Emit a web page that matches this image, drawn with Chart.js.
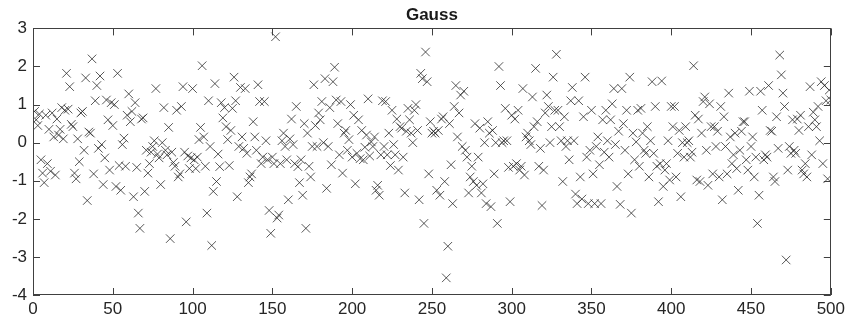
<!DOCTYPE html>
<html>
<head>
<meta charset="utf-8">
<title>Gauss</title>
<script src="https://cdn.jsdelivr.net/npm/chart.js@4/dist/chart.umd.min.js"></script>
<style>
  html, body { margin: 0; padding: 0; background: #fff; }
  #wrap { width: 849px; height: 326px; }
</style>
</head>
<body>
<div id="wrap"><canvas id="gauss" width="849" height="326"></canvas></div>
<script>
// axis ticks
const xTicks = [0, 50, 100, 150, 200, 250, 300, 350, 400, 450, 500];
const yTicks = [-4, -3, -2, -1, 0, 1, 2, 3];

// 500 samples, sample n is plotted at x = n
const gaussValues = [
  0.82, 0.6, 0.45, 0.75, -0.45, -0.8, -1.05, 0.72, -0.55, 0.35,
  -0.75, 0.78, 0.15, -0.85, 0.62, 0.2, 0.35, 0.92, 0.1, 0.85,
  1.82, 0.88, 1.47, 0.48, 0.42, -0.8, -0.95, 0.1, -0.5, 0.78,
  0.82, -0.2, 1.7, -1.52, 0.28, 0.25, 2.2, -0.82, 1.1, 1.5,
  -0.15, 1.75, -0.05, -1.1, -0.4, 1.12, 0.6, -0.72, 1.05, 0.45,
  1.0, -1.15, 1.82, -0.6, -1.25, -0.05, 0.12, -0.62, 0.72, 1.28,
  0.55, 0.82, -1.42, 1.05, -0.65, -1.85, -2.25, 0.62, 0.65, -1.28,
  -0.2, -0.8, -0.55, -0.25, -0.1, 0.05, 1.42, -0.3, -0.4, -1.1,
  0.0, 0.92, -0.2, -0.32, 0.4, -2.52, -0.25, -0.52, -0.62, 0.85,
  -0.9, -0.82, 0.95, 1.47, -0.25, -2.08, -0.35, -0.68, -0.4, 1.42,
  -0.45, -0.68, -0.38, 0.08, 0.4, 2.02, 0.15, -0.62, -1.85, 1.1,
  -0.1, -2.7, -1.28, 1.55, -1.02, -0.3, -0.63, 1.05, 0.65, 0.92,
  0.42, 0.08, -0.6, 0.32, 0.9, 1.72, 1.1, -1.42, -0.1, 1.45,
  0.15, -0.15, 1.42, -0.28, -1.05, -0.9, -0.82, 0.55, 0.15, -0.2,
  1.52, 1.08, -0.55, -0.38, 1.08, 0.05, -0.45, -1.78, -2.38, -0.38,
  -0.55, 2.78, -1.98, -1.9, -0.55, 0.05, 0.25, -0.1, -0.45, -1.5,
  0.1, 0.62, -0.05, -0.55, 0.95, -0.63, -1.05, -0.45, -1.38, 0.5,
  -2.25, 0.25, -0.62, -0.9, -0.1, 1.52, 0.45, -0.1, 0.78, 0.6,
  1.08, 0.0, 1.68, -1.2, -0.1, 0.92, -0.58, 1.6, 1.98, 1.12,
  0.5, -0.32, 1.08, -0.8, 0.25, 0.32, -0.2, 0.08, 1.0, -0.38,
  0.72, -1.08, -0.28, 0.6, -0.42, 0.32, -0.45, -0.12, 0.2, 1.15,
  -0.35, 0.02, -0.1, 0.15, -1.25, -1.12, -1.38, -0.32, 1.1, -0.1,
  1.08, -0.32, 0.25, -0.6, 0.85, -0.05, -0.32, 0.62, -0.72, 0.42,
  0.38, -0.38, -1.32, 0.3, 0.9, 0.6, 0.25, 0.0, 0.85, 1.0,
  0.32, -1.5, 1.82, 1.68, -2.12, 2.38, 1.6, -0.82, 0.55, 0.25,
  0.3, 0.25, -1.25, 0.32, -1.38, 0.62, 0.68, -1.02, -3.55, -2.72,
  0.5, -0.58, -1.6, 0.95, 1.5, 0.15, 0.78, 1.25, -0.1, 1.35,
  -0.2, -0.38, -1.32, -0.9, -0.62, -1.02, 0.5, -1.12, -0.38, 0.38,
  -1.32, -1.08, 0.0, -1.6, 0.55, 0.25, -1.68, 0.32, -0.82, 0.0,
  -2.12, 2.0, 1.5, 0.0, 0.05, 0.9, 0.05, -0.65, -1.55, 0.72,
  -0.62, 0.62, -0.55, 0.85, -0.72, -0.62, 1.42, -0.85, 0.15, 0.25,
  0.05, -0.05, 1.2, 0.42, 1.95, 0.55, -0.62, -0.15, -1.65, -0.72,
  0.78, 1.25, 0.95, 0.0, 0.42, 1.72, 0.85, 2.32, 0.85, 0.42,
  0.05, -1.02, 0.68, -0.1, 0.05, -0.45, 1.1, 1.45, 0.05, -1.35,
  -1.6, 1.1, -0.9, -1.48, 0.68, 1.72, -0.38, -1.6, -0.2, 0.85,
  -0.82, -1.6, -0.1, 0.15, -0.58, -1.6, 0.6, -0.25, 0.85, 0.05,
  -0.38, 0.6, 1.02, 1.42, -0.05, -1.15, 0.3, -1.62, 1.42, 0.5,
  -0.2, 0.85, -0.82, 1.72, -1.85, 0.25, -0.45, 0.02, 0.85, -0.62,
  0.9, 0.25, -0.2, -0.28, 0.42, -0.9, 0.05, 1.6, -0.28, 0.95,
  -0.62, -1.55, -0.55, 1.62, -1.15, -0.72, -0.55, 0.05, -0.98, 0.95,
  0.42, 0.95, -0.9, -0.28, 0.32, -1.42, 0.0, -0.38, 0.42, 0.0,
  0.05, -0.38, -0.25, 2.02, 0.72, -0.98, 0.62, -1.02, 0.25, 1.08,
  1.2, -0.2, -1.12, 1.02, 0.42, -0.82, 0.42, -0.1, 0.3, -0.9,
  0.95, -1.5, 0.68, -0.1, -0.82, 1.3, 0.15, -0.55, -0.32, 0.25,
  -0.68, -1.25, -0.2, 0.3, 0.55, 0.55, -0.45, -0.72, 1.35, -0.1,
  0.15, -0.9, -0.38, -2.12, -1.38, 1.35, 0.85, -0.45, -0.32, -0.38,
  1.5, 0.32, 0.3, -0.9, -1.02, 0.68, -0.15, 2.3, 1.78, 1.3,
  0.95, -3.08, -0.72, -0.1, -0.28, 0.6, -0.2, -0.28, 0.62, 0.32,
  0.72, -0.72, -0.82, -0.55, -0.9, 0.42, 1.47, -0.32, 0.8, 0.6,
  0.42, 0.95, 0.05, 1.6, -0.55, 1.5, 1.1, -0.95, 1.38, 1.12
];

const points = gaussValues.map((v, i) => ({ x: i + 1, y: v }));

const axisColor = '#404040';
const tickLen = 7;
const labelFont = { family: "'Liberation Sans', Arial, sans-serif", size: 17 };

// box around the plot with short inward tick marks on all four sides
const boxTicks = {
  id: 'boxTicks',
  afterDatasetsDraw(chart) {
    const { ctx, chartArea: a, scales } = chart;
    ctx.save();
    ctx.strokeStyle = axisColor;
    ctx.lineWidth = 1;
    ctx.beginPath();
    xTicks.forEach(v => {
      const px = Math.round(scales.x.getPixelForValue(v)) + 0.5;
      ctx.moveTo(px, a.bottom); ctx.lineTo(px, a.bottom - tickLen);
      ctx.moveTo(px, a.top); ctx.lineTo(px, a.top + tickLen);
    });
    yTicks.forEach(v => {
      const py = Math.round(scales.y.getPixelForValue(v)) + 0.5;
      ctx.moveTo(a.left, py); ctx.lineTo(a.left + tickLen, py);
      ctx.moveTo(a.right, py); ctx.lineTo(a.right - tickLen, py);
    });
    ctx.stroke();
    ctx.strokeRect(Math.round(a.left) + 0.5, Math.round(a.top) + 0.5,
      Math.round(a.width) - 1, Math.round(a.height) - 1);
    ctx.restore();
  }
};

new Chart(document.getElementById('gauss'), {
  type: 'scatter',
  data: {
    datasets: [{
      data: points,
      pointStyle: 'crossRot',
      pointRadius: 6,
      pointHoverRadius: 6,
      borderWidth: 0.9,
      borderColor: 'rgba(35,35,35,0.85)',
      backgroundColor: 'rgba(0,0,0,0)'
    }]
  },
  options: {
    responsive: false,
    animation: false,
    layout: { padding: { left: 0, right: 18, top: 0, bottom: 0 } },
    plugins: {
      legend: { display: false },
      tooltip: { enabled: false },
      title: {
        display: true,
        text: 'Gauss',
        fullSize: false,
        color: '#1a1a1a',
        font: { family: "'Liberation Sans', Arial, sans-serif", size: 17, weight: 'bold', lineHeight: 1.2 },
        padding: { top: 5, bottom: 3 }
      }
    },
    scales: {
      x: {
        type: 'linear',
        min: 0,
        max: 500,
        afterBuildTicks: s => { s.ticks = xTicks.map(v => ({ value: v })); },
        afterFit: s => { s.height = 31; },
        grid: { display: false, drawTicks: false },
        border: { display: false },
        ticks: { color: '#262626', font: labelFont, padding: 4, maxRotation: 0 }
      },
      y: {
        type: 'linear',
        min: -4,
        max: 3,
        afterBuildTicks: s => { s.ticks = yTicks.map(v => ({ value: v })); },
        afterFit: s => { s.width = 33; },
        grid: { display: false, drawTicks: false },
        border: { display: false },
        ticks: { color: '#262626', font: labelFont, padding: 6 }
      }
    }
  },
  plugins: [boxTicks]
});
</script>
</body>
</html>
